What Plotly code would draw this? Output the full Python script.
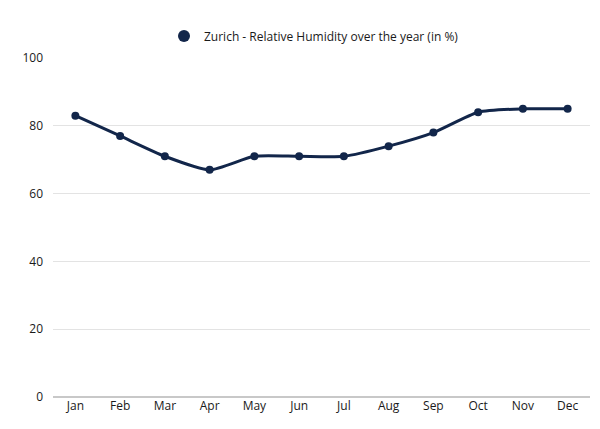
import plotly.graph_objects as go

months = ["Jan", "Feb", "Mar", "Apr", "May", "Jun", "Jul", "Aug", "Sep", "Oct", "Nov", "Dec"]
humidity = [83, 77, 71, 67, 71, 71, 71, 74, 78, 84, 85, 85]
series_name = "Zurich - Relative Humidity over the year (in %)"
y_ticks = [0, 20, 40, 60, 80, 100]

navy = "#12264a"

fig = go.Figure()
fig.add_trace(go.Scatter(
    x=months, y=humidity, name=series_name,
    mode="lines+markers",
    line=dict(color=navy, width=3, shape="spline", smoothing=0.6),
    marker=dict(color=navy, size=8),
    showlegend=False,
))
# legend entry: marker only
fig.add_trace(go.Scatter(
    x=[None], y=[None], name=series_name, mode="markers",
    marker=dict(color=navy, size=12), showlegend=True,
))

fig.update_layout(
    width=600, height=429,
    margin=dict(l=45, r=18, t=50, b=40, autoexpand=False),
    paper_bgcolor="white", plot_bgcolor="white",
    font=dict(family="Open Sans", size=12, color="#1a1a1a"),
    legend=dict(orientation="h", x=0.486, xanchor="center", y=0.935, yanchor="middle",
                yref="container", font=dict(size=12, color="#1a1a1a"), itemsizing="constant"),
    xaxis=dict(range=[-0.5, len(months) - 0.5], showgrid=False, showline=False, ticks="",
               zeroline=False, automargin=False, tickfont=dict(size=12, color="#1a1a1a")),
    yaxis=dict(range=[0, 100], tickvals=y_ticks, showgrid=True, gridcolor="#e3e3e3",
               gridwidth=1, zeroline=True, zerolinecolor="#c8c8c8", zerolinewidth=2,
               ticks="", ticklen=0, tickfont=dict(size=12, color="#1a1a1a"), automargin=False,
               ticklabelstandoff=9),
)

fig.write_html("out.html")
